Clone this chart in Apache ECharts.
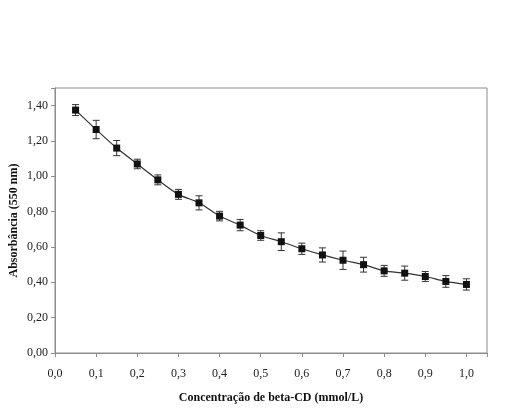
<!DOCTYPE html>
<html>
<head>
<meta charset="utf-8">
<script src="https://cdn.jsdelivr.net/npm/echarts@6/dist/echarts.min.js"></script>
<style>
  html, body { margin: 0; padding: 0; background: #fff; }
  #chart { width: 507px; height: 409px; }
</style>
</head>
<body>
<div id="chart"></div>
<script>
// beta-CD concentration (mmol/L)
const concentracao = [0.05, 0.10, 0.15, 0.20, 0.25, 0.30, 0.35, 0.40, 0.45, 0.50,
                      0.55, 0.60, 0.65, 0.70, 0.75, 0.80, 0.85, 0.90, 0.95, 1.00];
// absorbance at 550 nm
const absorbancia = [1.375, 1.265, 1.160, 1.070, 0.980, 0.898, 0.850, 0.775, 0.724, 0.665,
                     0.630, 0.590, 0.555, 0.525, 0.500, 0.465, 0.452, 0.433, 0.405, 0.388];
// error (+/-)
const erro = [0.031, 0.052, 0.043, 0.027, 0.028, 0.028, 0.040, 0.027, 0.032, 0.027,
              0.050, 0.032, 0.040, 0.052, 0.042, 0.031, 0.040, 0.028, 0.033, 0.032];

const fonte = '"Liberation Serif", "Times New Roman", serif';
const virgula = (v, d) => v.toFixed(d).replace('.', ',');

const pontos = concentracao.map((x, i) => [x, absorbancia[i]]);
const barras = concentracao.map((x, i) => [x, absorbancia[i] - erro[i], absorbancia[i] + erro[i]]);

const chart = echarts.init(document.getElementById('chart'));

chart.setOption({
  backgroundColor: '#fff',
  animation: false,
  grid: {
    left: 55, right: 20, top: 88, bottom: 56,
    outerBoundsMode: 'none', containLabel: false,
    show: true, borderColor: '#8c8c8c', borderWidth: 1
  },
  xAxis: {
    type: 'value',
    min: 0, max: 1.05, interval: 0.1,
    name: 'Concentração de beta-CD (mmol/L)',
    nameLocation: 'middle', nameGap: 39,
    nameTextStyle: { fontFamily: fonte, fontWeight: 'bold', fontSize: 12, color: '#111' },
    axisLine: { onZero: false, lineStyle: { color: '#8c8c8c' } },
    axisTick: { length: 4, lineStyle: { color: '#8c8c8c' } },
    axisLabel: {
      fontFamily: fonte, fontSize: 12, color: '#222', margin: 15,
      formatter: v => Math.abs(v * 10 - Math.round(v * 10)) < 1e-6 ? virgula(v, 1) : ''
    },
    splitLine: { show: false }
  },
  yAxis: {
    type: 'value',
    min: 0, max: 1.5, interval: 0.2,
    name: 'Absorbância (550 nm)',
    nameLocation: 'middle', nameGap: 35, nameMoveOverlap: false,
    nameTextStyle: { fontFamily: fonte, fontWeight: 'bold', fontSize: 12, color: '#111' },
    axisLine: { show: true, lineStyle: { color: '#8c8c8c' } },
    axisTick: { show: true, length: 4, lineStyle: { color: '#8c8c8c' } },
    axisLabel: {
      fontFamily: fonte, fontSize: 12, color: '#222', margin: 7,
      formatter: v => Math.abs(v * 5 - Math.round(v * 5)) < 1e-6 ? virgula(v, 2) : ''
    },
    splitLine: { show: false }
  },
  series: [
    {
      type: 'line',
      data: pontos,
      smooth: 0.3,
      symbol: 'rect',
      symbolSize: 7,
      itemStyle: { color: '#111' },
      lineStyle: { color: '#333', width: 1.2 },
      z: 3
    },
    {
      type: 'custom',
      data: barras,
      renderItem: function (params, api) {
        const x = api.value(0);
        const lo = api.coord([x, api.value(1)]);
        const hi = api.coord([x, api.value(2)]);
        const w = 3.5;
        const estilo = { stroke: '#333', lineWidth: 1 };
        return {
          type: 'group',
          children: [
            { type: 'line', shape: { x1: lo[0], y1: lo[1], x2: hi[0], y2: hi[1] }, style: estilo },
            { type: 'line', shape: { x1: lo[0] - w, y1: lo[1], x2: lo[0] + w, y2: lo[1] }, style: estilo },
            { type: 'line', shape: { x1: hi[0] - w, y1: hi[1], x2: hi[0] + w, y2: hi[1] }, style: estilo }
          ]
        };
      },
      z: 2
    }
  ]
});
</script>
</body>
</html>
